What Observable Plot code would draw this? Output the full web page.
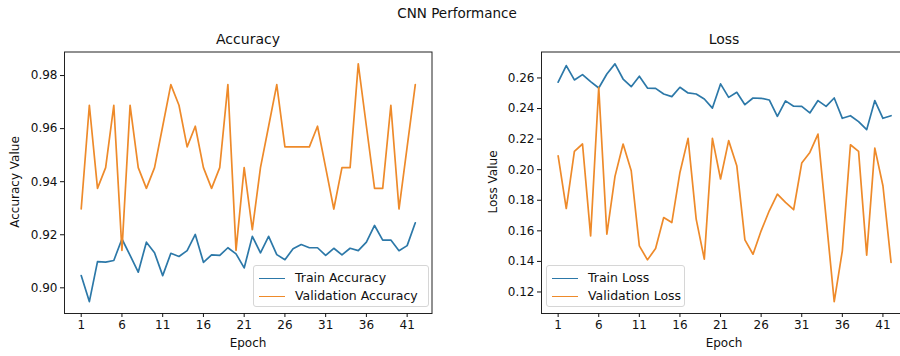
<!DOCTYPE html>
<html><head><meta charset="utf-8">
<script src="https://cdn.jsdelivr.net/npm/d3@7"></script>
<script src="https://cdn.jsdelivr.net/npm/@observablehq/plot@0.6"></script>
<style>
body{margin:0;background:#fff;}
#fig{position:relative;width:900px;height:356px;overflow:hidden;font-family:"DejaVu Sans",sans-serif;color:#111;}
.t{position:absolute;white-space:nowrap;transform:translate(-50%,-50%);}
.panel{position:absolute;top:0;}
.legend{position:absolute;background:rgba(255,255,255,0.8);border:1px solid #d6d6d6;border-radius:3px;font-size:12.5px;}
.row{position:absolute;left:0;right:0;height:16px;}
.sw{position:absolute;left:5px;top:8px;width:26px;height:0;border-top:1.7px solid;}
.lbl{position:absolute;left:41px;top:0;line-height:16px;}
</style></head><body><div id="fig"></div>
<script>
const epochs = [1,2,3,4,5,6,7,8,9,10,11,12,13,14,15,16,17,18,19,20,21,22,23,24,25,26,27,28,29,30,31,32,33,34,35,36,37,38,39,40,41,42];
const xTicks = [1,6,11,16,21,26,31,36,41];
const accTicks = [0.90,0.92,0.94,0.96,0.98];
const lossTicks = [0.12,0.14,0.16,0.18,0.20,0.22,0.24,0.26];

const trainAcc = [0.9046,0.8948,0.9099,0.9097,0.9103,0.9184,0.9122,0.9059,0.9172,0.9132,0.9046,0.9130,0.9118,0.9140,0.9201,0.9096,0.9124,0.9122,0.9151,0.9128,0.9075,0.9194,0.9132,0.9194,0.9125,0.9106,0.9147,0.9163,0.9151,0.9151,0.9122,0.9149,0.9124,0.9149,0.9140,0.9172,0.9235,0.9180,0.9180,0.9140,0.9159,0.9245];
const valAcc = [0.9297,0.9688,0.9375,0.9453,0.9688,0.9141,0.9688,0.9453,0.9375,0.9453,0.9609,0.9766,0.9688,0.9531,0.9609,0.9453,0.9375,0.9453,0.9766,0.9141,0.9453,0.9219,0.9453,0.9609,0.9766,0.9531,0.9531,0.9531,0.9531,0.9609,0.9453,0.9297,0.9453,0.9453,0.9844,0.9609,0.9375,0.9375,0.9688,0.9297,0.9531,0.9766];
const trainLoss = [0.2572,0.2681,0.2587,0.2622,0.2576,0.2534,0.2626,0.2692,0.2593,0.2543,0.2611,0.2534,0.2532,0.2495,0.2478,0.2539,0.2502,0.2495,0.2462,0.2403,0.2561,0.2473,0.2506,0.2425,0.2469,0.2467,0.2456,0.2349,0.2450,0.2415,0.2414,0.2371,0.2452,0.2414,0.2469,0.2336,0.2353,0.2314,0.2262,0.2452,0.2336,0.2353];
const valLoss = [0.2091,0.1746,0.2120,0.2168,0.1567,0.2539,0.1578,0.1956,0.2168,0.1993,0.1502,0.1410,0.1484,0.1687,0.1654,0.1982,0.2205,0.1677,0.1415,0.2205,0.1939,0.2190,0.2026,0.1541,0.1447,0.1600,0.1731,0.1840,0.1786,0.1738,0.2043,0.2113,0.2233,0.1685,0.1137,0.1469,0.2163,0.2120,0.1441,0.2141,0.1895,0.1393];

const BLUE = "#2c78a8", ORANGE = "#ee8a2a";
const FONT = "DejaVu Sans, sans-serif";

function padded(a, b) {
  const [lo, hi] = d3.extent(a.concat(b));
  const m = (hi - lo) * 0.05;
  return [lo - m, hi + m];
}
const xDom = [epochs[0] - 0.05 * (epochs[41] - epochs[0]), epochs[41] + 0.05 * (epochs[41] - epochs[0])];

function panel(train, val, ticks, left, width, marginLeft, marginRight) {
  const tr = epochs.map((e, i) => ({epoch: e, value: train[i]}));
  const va = epochs.map((e, i) => ({epoch: e, value: val[i]}));
  const svg = Plot.plot({
    width, height: 356,
    marginLeft, marginRight, marginTop: 51.5, marginBottom: 43,
    x: {domain: xDom},
    y: {domain: padded(train, val)},
    style: {fontFamily: FONT, fontSize: "12px", background: "transparent", color: "#111"},
    marks: [
      Plot.line(tr, {x: "epoch", y: "value", stroke: BLUE, strokeWidth: 1.7}),
      Plot.line(va, {x: "epoch", y: "value", stroke: ORANGE, strokeWidth: 1.7}),
      Plot.frame({stroke: "#222", strokeWidth: 1}),
      Plot.axisX({ticks: xTicks, tickSize: 4, tickPadding: 3, label: null, fontSize: 12}),
      Plot.axisY({ticks, tickFormat: d3.format(".2f"), tickSize: 4, tickPadding: 3, label: null, fontSize: 12})
    ]
  });
  svg.classList.add("panel");
  svg.style.left = left + "px";
  return svg;
}

const fig = document.getElementById("fig");
fig.appendChild(panel(trainAcc, valAcc, accTicks, 0, 450, 64, 18.5));
fig.appendChild(panel(trainLoss, valLoss, lossTicks, 470, 450, 71, 12.8));

function text(s, x, y, size, rot) {
  const d = document.createElement("div");
  d.className = "t";
  d.textContent = s;
  d.style.left = x + "px"; d.style.top = y + "px"; d.style.fontSize = size + "px";
  if (rot) d.style.transform = "translate(-50%,-50%) rotate(-90deg)";
  fig.appendChild(d);
}
text("CNN Performance", 457, 13, 13.5);
text("Accuracy", 248, 39, 14);
text("Loss", 724, 39, 14);
text("Epoch", 248, 343, 12);
text("Epoch", 724, 343, 12);
text("Accuracy Value", 15, 182, 12, true);
text("Loss Value", 493, 182, 12, true);

function legend(x, y, w, items) {
  const L = document.createElement("div");
  L.className = "legend";
  L.style.left = x + "px"; L.style.top = y + "px"; L.style.width = w + "px"; L.style.height = "40px";
  items.forEach(([name, color], i) => {
    const r = document.createElement("div");
    r.className = "row"; r.style.top = (4 + i * 18) + "px";
    const s = document.createElement("div"); s.className = "sw"; s.style.borderTopColor = color;
    const l = document.createElement("div"); l.className = "lbl"; l.textContent = name;
    r.appendChild(s); r.appendChild(l); L.appendChild(r);
  });
  fig.appendChild(L);
}
legend(253, 265, 174, [["Train Accuracy", BLUE], ["Validation Accuracy", ORANGE]]);
legend(546, 265, 137, [["Train Loss", BLUE], ["Validation Loss", ORANGE]]);
</script></body></html>
